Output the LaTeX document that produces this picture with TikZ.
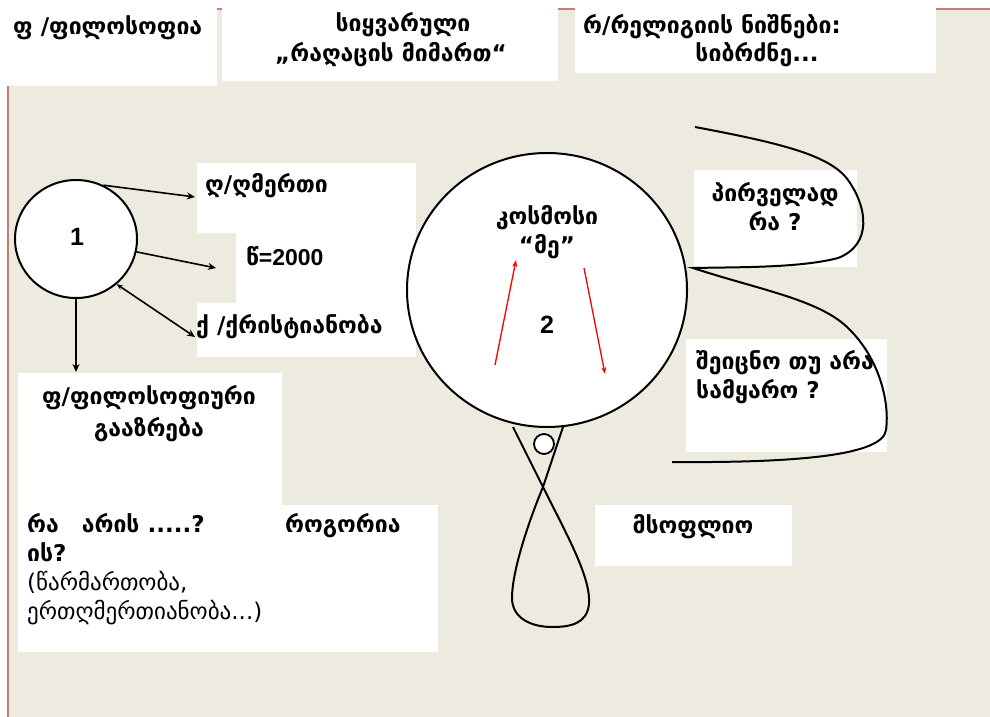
\documentclass[tikz,border=0pt]{standalone}
\usepackage{fontspec}
\setmainfont{DejaVu Sans}
\newfontfamily\arialfont{Liberation Sans}
\usepackage{xcolor}
\usetikzlibrary{shapes.geometric,arrows.meta,positioning,calc}

\definecolor{paper}{HTML}{EDEAE0}
\definecolor{edge}{HTML}{C97B78}

\begin{document}
\begin{tikzpicture}[x=1pt, y=-1pt,
    geo/.style={font=\fontsize{23}{29}\selectfont\bfseries, inner sep=0pt},
    num/.style={font=\arialfont\bfseries\fontsize{25}{28}\selectfont, inner sep=0pt},
    arr/.style={line width=1.6pt, -{Stealth[length=8pt,width=7pt]}},
    redarr/.style={red, line width=1.3pt, -{Stealth[length=7pt,width=5pt]}},
    ring/.style={draw, line width=2pt, fill=white, ellipse}]
    \useasboundingbox (0,0) rectangle (990,717);

    % Background sheet
    \fill[paper] (7,8) rectangle (990,717);
    \draw[edge, line width=2pt] (8,717) -- (8,9) -- (990,9);

    % White boxes
    \fill[white] (0,0) rectangle (217,86);
    \fill[white] (222,8) rectangle (558,81);
    \fill[white] (575,8) rectangle (936,73);
    \fill[white] (197,163) rectangle (416,233);
    \fill[white] (236,233) rectangle (416,303);
    \fill[white] (197,303) rectangle (416,357);
    \fill[white] (18,373) rectangle (282,505);
    \fill[white] (18,505) rectangle (438,652);
    \fill[white] (694,170) rectangle (857,267);
    \fill[white] (686,339) rectangle (887,452);
    \fill[white] (595,505) rectangle (792,566);

    % Header texts
    \node[geo, anchor=west] (philo) at (13,28) {ფ /ფილოსოფია};
    \node[geo] (love1) at (403,25) {სიყვარული};
    \node[geo] (love2) at (391,55) {„რაღაცის მიმართ“};
    \node[geo, anchor=west] (relig1) at (583,27) {რ/რელიგიის ნიშნები:};
    \node[geo] (relig2) at (757,55) {სიბრძნე...};

    % Left part
    \node[ring, minimum width=122pt, minimum height=118pt] (e1) at (76,239) {};
    \node[num] (one) at (77,237) {1};
    \node[geo, anchor=west] (god) at (205,186) {ღ/ღმერთი};
    \node[geo, anchor=west] (year) at (246,256) {წ{\arialfont =2000}};
    \node[geo, anchor=west] (christ) at (196,327) {ქ /ქრისტიანობა};
    \node[geo, align=center] (phil) at (149,414) {ფ/ფილოსოფიური\\[3pt]გააზრება};
    \node[geo, anchor=north west, align=left] (ask) at (27,513)
        {\makebox[258pt][l]{რა\quad არის .....?}როგორია\\ის?\\
         {\mdseries (წარმართობა,}\\{\mdseries ერთღმერთიანობა...)}};
    \coordinate (godtip) at (195,197);
    \coordinate (yeartip) at (216,268);
    \coordinate (christtip) at (195,337);
    \coordinate (philtip) at (76,372);

    \draw[arr] (e1.63) -- (godtip);
    \draw[arr] (e1.-12) -- (yeartip);
    \draw[line width=1.6pt, {Stealth[length=6pt,width=5pt]}-{Stealth[length=8pt,width=7pt]}] (e1.-48) -- (christtip);
    \draw[arr] (e1.south) -- (philtip);

    % Tie under the circle
    \draw[line width=2pt] (513,427) -- (543,487)
        .. controls (568,537) and (591,578) .. (589,604)
        .. controls (587,624) and (570,627) .. (552,627)
        .. controls (531,627) and (512,618) .. (512,598)
        .. controls (512,570) and (530,518) .. (543,487) -- (563,427);
    \node[ring, circle, minimum size=20pt, line width=1.8pt] (knot) at (544,444) {};

    % Big circle
    \node[ring, minimum width=280pt, minimum height=274pt] (e2) at (547,290) {};
    \node[geo] (cosmos1) at (547,218) {კოსმოსი};
    \node[geo] (cosmos2) at (547,247) {“მე”};
    \node[num] (two) at (547,325) {2};
    \coordinate (up0) at (495,365);
    \coordinate (up1) at (516,260);
    \coordinate (dn0) at (584,268);
    \coordinate (dn1) at (605,374);
    \draw[redarr] (up0) -- (up1);
    \draw[redarr] (dn0) -- (dn1);

    % Right side
    \node[geo, align=center] (first) at (775,207) {პირველად\\რა ?};
    \node[geo, anchor=north west, align=left] (known) at (696,350) {შეიცნო თუ არა\\სამყარო ?};
    \node[geo] (world) at (693,527) {მსოფლიო};

    \draw[line width=2pt] (695,127)
        .. controls (780,143) and (830,155) .. (848,180)
        .. controls (868,208) and (872,245) .. (838,258)
        .. controls (800,268) and (740,267) .. (693,268)
        .. controls (760,290) and (822,300) .. (850,330)
        .. controls (878,358) and (890,400) .. (886,430)
        .. controls (883,455) and (800,463) .. (672,462);
\end{tikzpicture}
\end{document}
